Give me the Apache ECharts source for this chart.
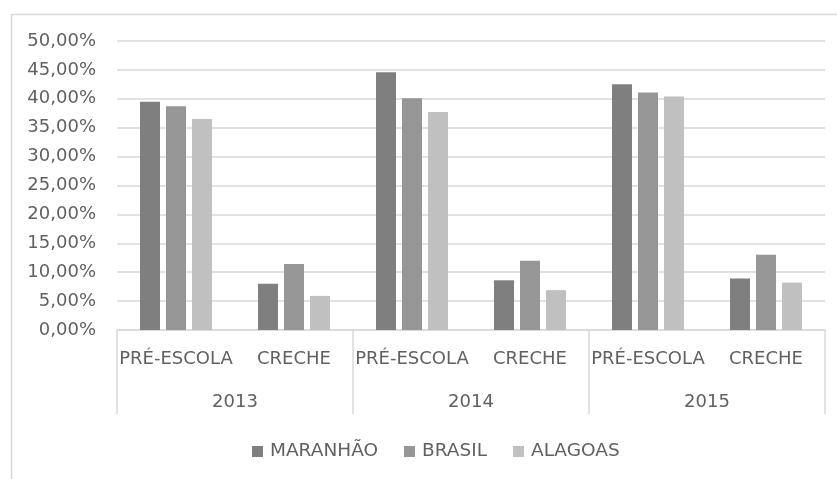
<!DOCTYPE html>
<html>
<head>
<meta charset="utf-8">
<script src="https://cdn.jsdelivr.net/npm/echarts@6/dist/echarts.min.js"></script>
<style>
  html, body { margin: 0; padding: 0; background: #fff; }
  #chart { width: 837px; height: 479px; }
</style>
</head>
<body>
<div id="chart"></div>
<script>
// Taxa de atendimento por etapa e ano (%)
const years = ['2013', '2014', '2015'];
const stages = ['PRÉ-ESCOLA', 'CRECHE', 'PRÉ-ESCOLA', 'CRECHE', 'PRÉ-ESCOLA', 'CRECHE'];
const seriesNames = ['MARANHÃO', 'BRASIL', 'ALAGOAS'];
const maranhao = [39.5, 8.0, 44.6, 8.6, 42.5, 8.9];
const brasil = [38.7, 11.4, 40.1, 12.0, 41.1, 13.0];
const alagoas = [36.5, 5.9, 37.7, 6.9, 40.4, 8.2];
const colors = ['#7f7f7f', '#969696', '#c0c0c0'];

const font = 'DejaVu Sans';
const textColor = '#616161';
const lineColor = '#d9d9d9';

const chart = echarts.init(document.getElementById('chart'));
chart.setOption({
  animation: false,
  color: colors,
  textStyle: { fontFamily: font },
  graphic: [{
    type: 'rect',
    shape: { x: 11.5, y: 14.5, width: 900, height: 600 },
    style: { fill: 'none', stroke: lineColor, lineWidth: 1.5 },
    silent: true
  }],
  grid: { left: 117, right: 12, top: 41, bottom: 149 },
  legend: {
    top: 437,
    left: 247,
    itemWidth: 11,
    itemHeight: 11,
    itemGap: 26,
    icon: 'rect',
    textStyle: { fontSize: 18.5, color: textColor, fontFamily: font, padding: [0, 0, 0, 2] },
    data: seriesNames
  },
  xAxis: [{
    type: 'category',
    data: stages,
    axisLine: { show: true, lineStyle: { color: lineColor, width: 1.5 } },
    axisTick: { show: false },
    axisLabel: { color: textColor, fontSize: 18, margin: 20, interval: 0, fontFamily: font }
  }, {
    type: 'category',
    data: years,
    position: 'bottom',
    axisLine: { show: false },
    axisTick: { show: true, length: 84, lineStyle: { color: lineColor, width: 1.5 } },
    axisLabel: { color: textColor, fontSize: 18, margin: 63, fontFamily: font }
  }],
  yAxis: {
    type: 'value',
    min: 0,
    max: 50,
    interval: 5,
    axisLine: { show: false },
    axisTick: { show: false },
    splitLine: { lineStyle: { color: lineColor, width: 1.5 } },
    axisLabel: {
      color: textColor,
      fontSize: 18,
      margin: 21,
      fontFamily: font,
      formatter: v => v.toFixed(2).replace('.', ',') + '%'
    }
  },
  series: [
    { name: seriesNames[0], type: 'bar', xAxisIndex: 0, data: maranhao, barWidth: 20, barGap: '30%' },
    { name: seriesNames[1], type: 'bar', xAxisIndex: 0, data: brasil, barWidth: 20, barGap: '30%' },
    { name: seriesNames[2], type: 'bar', xAxisIndex: 0, data: alagoas, barWidth: 20, barGap: '30%' }
  ]
});
</script>
</body>
</html>
